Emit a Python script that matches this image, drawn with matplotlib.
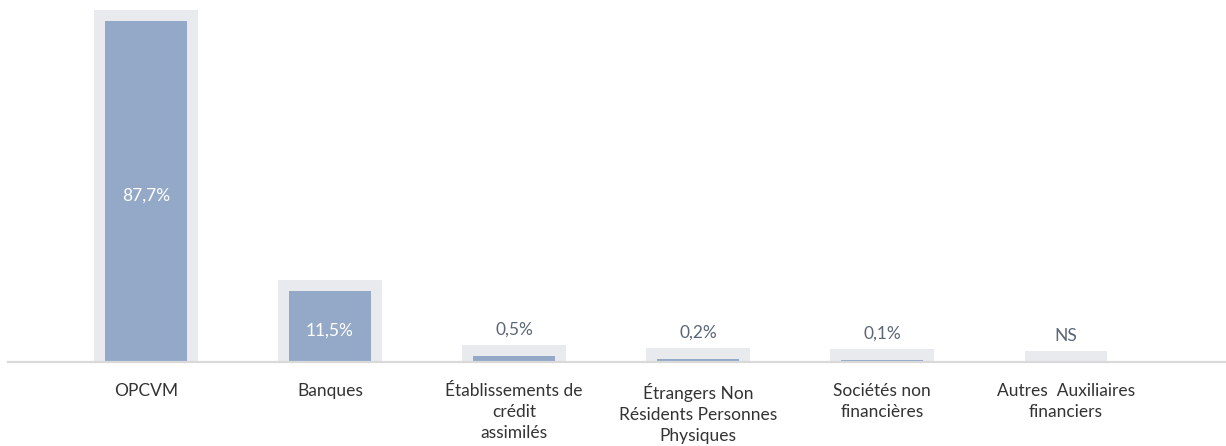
import numpy as np
import matplotlib
matplotlib.use("Agg")
import matplotlib.pyplot as plt

categories = ["OPCVM", "Banques", "Établissements de\ncrédit\nassimilés",
              "Étrangers Non\nRésidents Personnes\nPhysiques",
              "Sociétés non\nfinancières", "Autres  Auxiliaires\nfinanciers"]
values = [87.7, 11.5, 0.5, 0.2, 0.1, 0.0]
value_labels = ["87,7%", "11,5%", "0,5%", "0,2%", "0,1%", "NS"]

BLUE = "#94a9c8"
TRACK = "#e9eaee"
AXIS = "#d9d9d9"
LABEL_DARK = "#5b6676"
CAT_COLOR = "#333333"

plt.rcParams['font.family'] = ['Lato', 'DejaVu Sans']

P = 0.77
def fwd(v):
    v = np.asarray(v, dtype=float)
    return np.sign(v) * np.abs(v) ** P
def inv(v):
    v = np.asarray(v, dtype=float)
    return np.sign(v) * np.abs(v) ** (1 / P)

fig = plt.figure(figsize=(12.26, 4.46), dpi=100)
ax = fig.add_axes([8 / 1226, 84 / 446, 1218 / 1226, 362 / 446])
ax.set_yscale('function', functions=(fwd, inv))

x = np.arange(len(categories))
width = 0.446
pad_px = 11
lw_pt = 2 * pad_px * 72 / 100

ax.bar(x, values, width=width, color=TRACK, edgecolor=TRACK,
       linewidth=lw_pt, joinstyle='miter', zorder=1)
ax.bar(x, values, width=width, color=BLUE, linewidth=0, zorder=2)

top = float(inv(fwd(max(values)) * 362 / 341))
ax.set_ylim(0, top)
ax.set_xlim(-0.75, 5.87)

FS = 12.5
for xi, v, lab in zip(x, values, value_labels):
    if v > 5:
        ymid = float(inv(fwd(v) / 2))
        ax.annotate(lab, (xi, ymid), xytext=(0, -3), textcoords='offset points',
                    ha='center', va='center', color='white',
                    fontsize=FS, zorder=3)
    else:
        ax.annotate(lab, (xi, v), xytext=(0, 19), textcoords='offset points',
                    ha='center', va='center', color=LABEL_DARK, fontsize=FS,
                    zorder=3)

ax.set_xticks(x)
ax.set_xticklabels(categories, fontsize=FS, color=CAT_COLOR, linespacing=1.4)
ax.tick_params(axis='x', length=0, pad=15)
ax.set_yticks([])
ax.yaxis.set_minor_locator(matplotlib.ticker.NullLocator())
for s in ['top', 'left', 'right']:
    ax.spines[s].set_visible(False)
ax.spines['bottom'].set_color(AXIS)
ax.spines['bottom'].set_linewidth(1.6)
ax.spines['bottom'].set_zorder(2.5)

fig.savefig("out.png", dpi=100)
